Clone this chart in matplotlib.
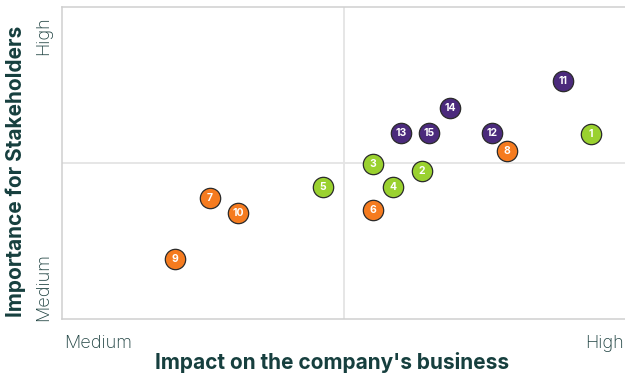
import matplotlib.pyplot as plt

# materiality topics: impact on business (x) vs importance for stakeholders (y)
topic_ids = [1, 2, 3, 4, 5, 6, 7, 8, 9, 10, 11, 12, 13, 14, 15]
impact = [9.40, 6.39, 5.52, 5.88, 4.63, 5.52, 2.62, 7.90, 2.00, 3.13, 8.89, 7.64, 6.02, 6.89, 6.52]
importance = [5.93, 4.75, 4.97, 4.22, 4.22, 3.50, 3.87, 5.37, 1.93, 3.40, 7.64, 5.97, 5.97, 6.77, 5.97]
groups = ['env', 'env', 'env', 'env', 'env', 'soc', 'soc', 'soc', 'soc', 'soc',
          'gov', 'gov', 'gov', 'gov', 'gov']

group_colors = {'env': '#9ad12f', 'soc': '#f57b1f', 'gov': '#4b2a7c'}
title_color = '#163f3e'
tick_color = '#1f4241'

plt.rcParams['font.family'] = ['Inter', 'DejaVu Sans']

fig = plt.figure(figsize=(6.25, 3.76), dpi=100)
ax = fig.add_axes([0.0992, 0.1516, 0.9008, 0.8298])

ax.set_xlim(0, 10)
ax.set_ylim(0, 10)

# quadrant lines
ax.axvline(5, color='#e4e4e4', lw=1.3, zorder=0)
ax.axhline(5, color='#e4e4e4', lw=1.3, zorder=0)

for i in range(len(topic_ids)):
    ax.scatter(impact[i], importance[i], s=215, color=group_colors[groups[i]],
               edgecolors='#2a2a2a', linewidths=0.9, zorder=3)
    ax.text(impact[i], importance[i], str(topic_ids[i]), color='white',
            fontsize=7.5, fontweight='bold', ha='center', va='center', zorder=4)

for side in ['top', 'left', 'bottom']:
    ax.spines[side].set_color('#cfcfcf')
    ax.spines[side].set_linewidth(1.1)
ax.spines['right'].set_visible(False)
ax.set_xticks([])
ax.set_yticks([])

# axis end labels
ax.text(0.004, -0.077, 'Medium', transform=ax.transAxes, ha='left', va='center',
        fontsize=13, fontweight='light', color=tick_color)
ax.text(0.998, -0.077, 'High', transform=ax.transAxes, ha='right', va='center',
        fontsize=13, fontweight='light', color=tick_color)
ax.text(-0.032, -0.005, 'Medium', transform=ax.transAxes, ha='center', va='bottom',
        rotation=90, fontsize=13, fontweight='light', color=tick_color)
ax.text(-0.032, 0.97, 'High', transform=ax.transAxes, ha='center', va='top',
        rotation=90, fontsize=13, fontweight='light', color=tick_color)

fig.text(0.532, 0.037, "Impact on the company's business", ha='center', va='center',
         fontsize=15, fontweight='bold', color=title_color)
fig.text(0.026, 0.544, 'Importance for Stakeholders', ha='center', va='center',
         rotation=90, fontsize=15, fontweight='bold', color=title_color)

fig.savefig('out.png', dpi=100)
